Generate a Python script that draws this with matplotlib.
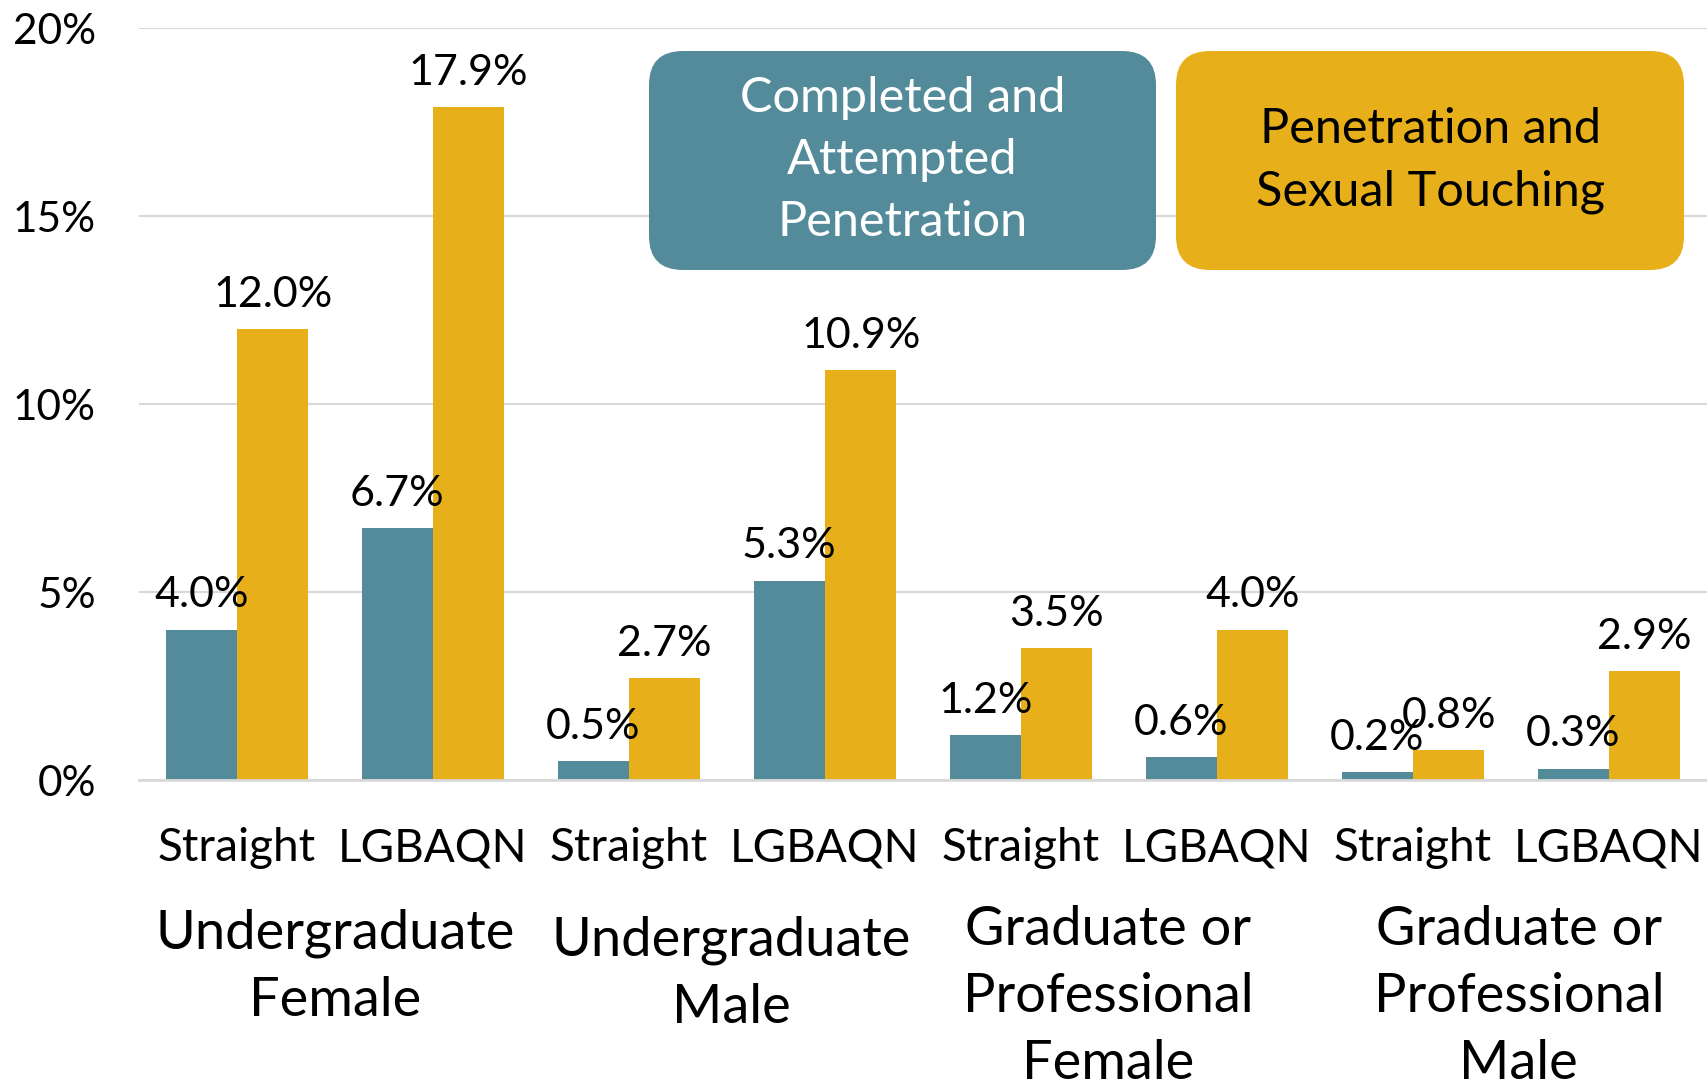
import matplotlib.pyplot as plt
import matplotlib.transforms as mtransforms
from matplotlib.patches import FancyBboxPatch
import numpy as np

# chart data
orientation = ['Straight', 'LGBAQN', 'Straight', 'LGBAQN', 'Straight', 'LGBAQN', 'Straight', 'LGBAQN']
groups = ['Undergraduate\nFemale', 'Undergraduate\nMale', 'Graduate or\nProfessional\nFemale', 'Graduate or\nProfessional\nMale']
penetration = [4.0, 6.7, 0.5, 5.3, 1.2, 0.6, 0.2, 0.3]
pen_touching = [12.0, 17.9, 2.7, 10.9, 3.5, 4.0, 0.8, 2.9]
yticks = [0, 5, 10, 15, 20]

teal = '#538B9B'
gold = '#E7B01A'
grid_c = '#D9D9D9'

plt.rcParams['font.family'] = ['Lato', 'DejaVu Sans']

fig = plt.figure(figsize=(17.07, 10.88), dpi=100)
ax = fig.add_axes([139 / 1707, 1 - 780 / 1088, 1 - 139 / 1707, (780 - 28) / 1088])

x = np.arange(len(orientation))
w = 0.364
b1 = ax.bar(x - w / 2, penetration, w, color=teal, zorder=2)
b2 = ax.bar(x + w / 2, pen_touching, w, color=gold, zorder=2)

# value labels
for bars, vals in [(b1, penetration), (b2, pen_touching)]:
    for bar, v in zip(bars, vals):
        ax.annotate(f'{v:.1f}%', (bar.get_x() + bar.get_width() / 2, v),
                    xytext=(0, 11), textcoords='offset points',
                    ha='center', va='bottom', fontsize=31, zorder=5)

ax.set_xlim(-0.5, len(orientation) - 0.5)
ax.set_ylim(0, 20)
ax.set_yticks(yticks)
ax.set_yticklabels([f'{t}%' for t in yticks])
ax.set_xticks(x)
ax.set_xticklabels(orientation)
ax.tick_params(axis='x', length=0, pad=34, labelsize=33)
ax.tick_params(axis='y', length=0, pad=31, labelsize=30.5)
ax.grid(axis='y', color=grid_c, linewidth=1.5, zorder=0)
for s in ['top', 'right', 'left']:
    ax.spines[s].set_visible(False)
ax.spines['bottom'].set_color(grid_c)
ax.spines['bottom'].set_linewidth(2)
ax.spines['bottom'].set_zorder(3)

# group labels below the category labels (excel nudges them a little)
group_y = [-0.248, -0.257, -0.288, -0.288]
group_dx = [0.0, 0.02, -0.055, 0.04]
trans = ax.get_xaxis_transform()
for i, (g, gy, dx) in enumerate(zip(groups, group_y, group_dx)):
    ax.text(2 * i + 0.5 + dx, gy, g, transform=trans, ha='center', va='center',
            fontsize=39, linespacing=1.45)

# legend boxes (pixel coords)
px = mtransforms.IdentityTransform()
boxes = [
    (649, 818, 507, 219, teal, 'Completed and\nAttempted\nPenetration', 'white'),
    (1176, 818, 508, 219, gold, 'Penetration and\nSexual Touching', 'black'),
]
for bx, by, bw, bh, fc, label, tc in boxes:
    p = FancyBboxPatch((bx, by), bw, bh, boxstyle='round,pad=0,rounding_size=34',
                       transform=px, facecolor=fc, edgecolor='none', zorder=6)
    fig.patches.append(p)
    fig.text(bx + bw / 2, by + bh / 2, label, transform=px, ha='center', va='center',
             color=tc, fontsize=35, linespacing=1.5, zorder=7)

fig.savefig('out.png', dpi=100)
